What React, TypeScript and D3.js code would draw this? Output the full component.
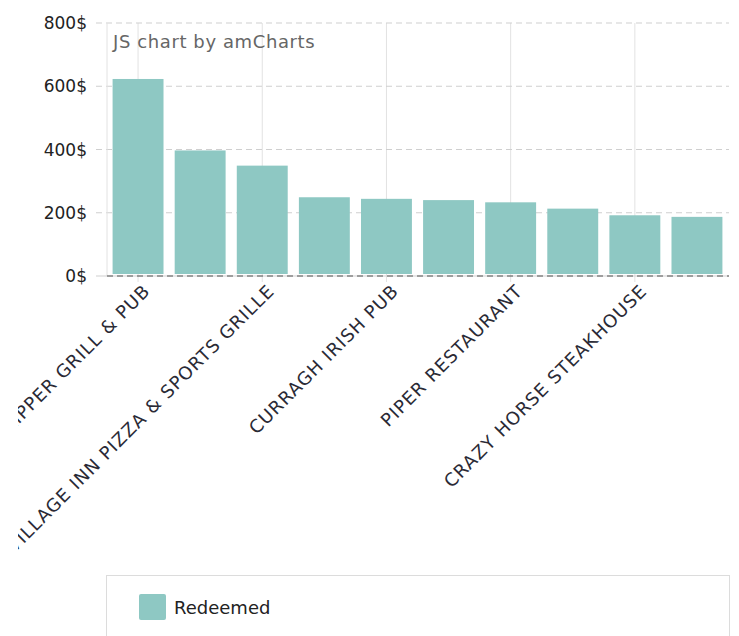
import * as d3 from "d3";
import React from "react";

// restaurant names (only every other one gets a label on the axis)
const categories = [
  "CLIPPER GRILL & PUB",
  "MAIN STREET DINER",
  "VILLAGE INN PIZZA & SPORTS GRILLE",
  "BLUE WATER CAFE",
  "CURRAGH IRISH PUB",
  "OLD TOWN TAVERN",
  "PIPER RESTAURANT",
  "LAKESIDE BISTRO",
  "CRAZY HORSE STEAKHOUSE",
  "RIVERSIDE GRILL",
];
const redeemed = [623, 397, 349, 249, 244, 240, 233, 213, 192, 187];
const yTicks = [0, 200, 400, 600, 800];
const seriesName = "Redeemed";

const W = 739;
const H = 636;
const margin = { top: 23, right: 11, bottom: 360, left: 107 };
const barColor = "#8ec8c3";
const font = "'DejaVu Sans', Verdana, sans-serif";

const App: React.FC = () => {
  const plotBottom = H - margin.bottom;
  const x = d3
    .scaleBand<string>()
    .domain(categories)
    .range([margin.left, W - margin.right])
    .paddingInner(0.18)
    .paddingOuter(0.09);
  const y = d3.scaleLinear().domain([0, 800]).range([plotBottom, margin.top]);

  const labelled = categories.filter((_, i) => i % 2 === 0);
  const cx = (c: string) => (x(c) || 0) + x.bandwidth() / 2;

  return (
    <svg
      width={W}
      height={H}
      style={{ position: "absolute", left: 0, top: 0, background: "#fff" }}
      fontFamily={font}
    >
      <defs>
        {/* the chart container cuts the long labels on the left */}
        <clipPath id="labelClip">
          <rect x={18} y={0} width={W - 18} height={H} />
        </clipPath>
      </defs>

      {/* vertical grid */}
      {labelled.map((c) => (
        <line
          key={"vg" + c}
          x1={cx(c)}
          x2={cx(c)}
          y1={margin.top}
          y2={plotBottom + 6}
          stroke="#e2e2e2"
          strokeWidth={1}
        />
      ))}

      {/* horizontal dashed grid */}
      {yTicks
        .filter((t) => t > 0)
        .map((t) => (
          <line
            key={"hg" + t}
            x1={96}
            x2={W - 10}
            y1={y(t)}
            y2={y(t)}
            stroke="#cfcfcf"
            strokeDasharray="6,4"
          />
        ))}

      {/* value axis line */}
      <line x1={margin.left} x2={margin.left} y1={margin.top} y2={plotBottom} stroke="#e2e2e2" />

      {/* bars */}
      {categories.map((c, i) => (
        <rect
          key={c}
          x={x(c)}
          y={y(redeemed[i])}
          width={x.bandwidth()}
          height={plotBottom - 2 - y(redeemed[i])}
          fill={barColor}
        />
      ))}

      {/* zero line */}
      <line x1={96} x2={W - 10} y1={plotBottom} y2={plotBottom} stroke="#cfcfcf" />
      <line
        x1={margin.left}
        x2={W - 10}
        y1={plotBottom}
        y2={plotBottom}
        stroke="#555"
        strokeDasharray="6,4"
      />

      {/* y tick labels */}
      {yTicks.map((t) => (
        <text
          key={"yt" + t}
          x={87}
          y={y(t)}
          dy="0.36em"
          textAnchor="end"
          fontSize={17}
          fill="#222"
        >
          {t}$
        </text>
      ))}

      {/* credit */}
      <text x={113} y={48} fontSize={18} letterSpacing={0.6} fill="#666">
        JS chart by amCharts
      </text>

      {/* category labels */}
      <g clipPath="url(#labelClip)">
        {labelled.map((c) => (
          <text
            key={"xl" + c}
            transform={`translate(${cx(c) + 4},${plotBottom + 7}) rotate(-45)`}
            textAnchor="end"
            dy="0.72em"
            fontSize={18}
            letterSpacing={1}
            fill="#2a2a35"
          >
            {c}
          </text>
        ))}
      </g>

      {/* legend */}
      <rect x={106.5} y={575.5} width={623} height={80} fill="#fff" stroke="#dcdcdc" />
      <rect x={139} y={594} width={27} height={26} rx={2} fill={barColor} />
      <text x={174} y={614} fontSize={18} fill="#222">
        {seriesName}
      </text>
    </svg>
  );
};

export default App;
